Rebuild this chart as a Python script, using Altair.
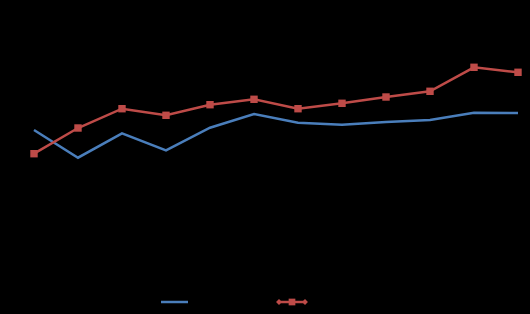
import altair as alt
import pandas as pd

# category index (12 periods)
periods = list(range(12))
blue_values = [184.0, 156.3, 180.7, 163.7, 186.3, 200.0, 191.3, 189.3, 192.0, 194.0, 201.3, 201.0]
red_values = [160.3, 186.0, 205.3, 198.7, 209.3, 214.7, 205.3, 210.7, 217.0, 222.7, 246.7, 241.7]

df = pd.DataFrame({"period": periods, "blue": blue_values, "red": red_values})

W, H = 530, 314
xscale = alt.Scale(domain=[-34 / 44, (W - 34) / 44], nice=False, zero=False)
yscale = alt.Scale(domain=[0, H], nice=False, zero=False)

base = alt.Chart(df)

blue_line = base.mark_line(color="#4A7EBB", strokeWidth=2.5).encode(
    x=alt.X("period:Q", scale=xscale, axis=None),
    y=alt.Y("blue:Q", scale=yscale, axis=None),
)
red_line = base.mark_line(color="#BE4B48", strokeWidth=2.5).encode(
    x=alt.X("period:Q", scale=xscale, axis=None),
    y=alt.Y("red:Q", scale=yscale, axis=None),
)
red_pts = base.mark_point(shape="square", filled=True, color="#BE4B48", size=55, opacity=1).encode(
    x=alt.X("period:Q", scale=xscale, axis=None),
    y=alt.Y("red:Q", scale=yscale, axis=None),
)

# legend (no labels in the reference)
leg = alt.Chart(pd.DataFrame({"k": [0]}))
leg_blue = leg.mark_rule(color="#4A7EBB", strokeWidth=2.5).encode(
    x=alt.value(161), x2=alt.value(188), y=alt.value(302)
)
leg_red = leg.mark_rule(color="#BE4B48", strokeWidth=2.5).encode(
    x=alt.value(279), x2=alt.value(305), y=alt.value(302)
)
leg_red_sq = leg.mark_point(shape="square", filled=True, color="#BE4B48", size=45, opacity=1).encode(
    x=alt.value(292), y=alt.value(302)
)
leg_red_d1 = leg.mark_point(shape="diamond", filled=True, color="#BE4B48", size=35, opacity=1).encode(
    x=alt.value(279), y=alt.value(302)
)
leg_red_d2 = leg.mark_point(shape="diamond", filled=True, color="#BE4B48", size=35, opacity=1).encode(
    x=alt.value(305), y=alt.value(302)
)

chart = alt.layer(
    blue_line, red_line, red_pts, leg_blue, leg_red, leg_red_sq, leg_red_d1, leg_red_d2
).properties(
    width=W, height=H, padding=0, autosize=alt.AutoSizeParams(type="none"),
    background="#000000",
).configure_view(stroke=None, fill="#000000")

chart.save("out.html", embed_options={"renderer": "svg", "actions": False})
